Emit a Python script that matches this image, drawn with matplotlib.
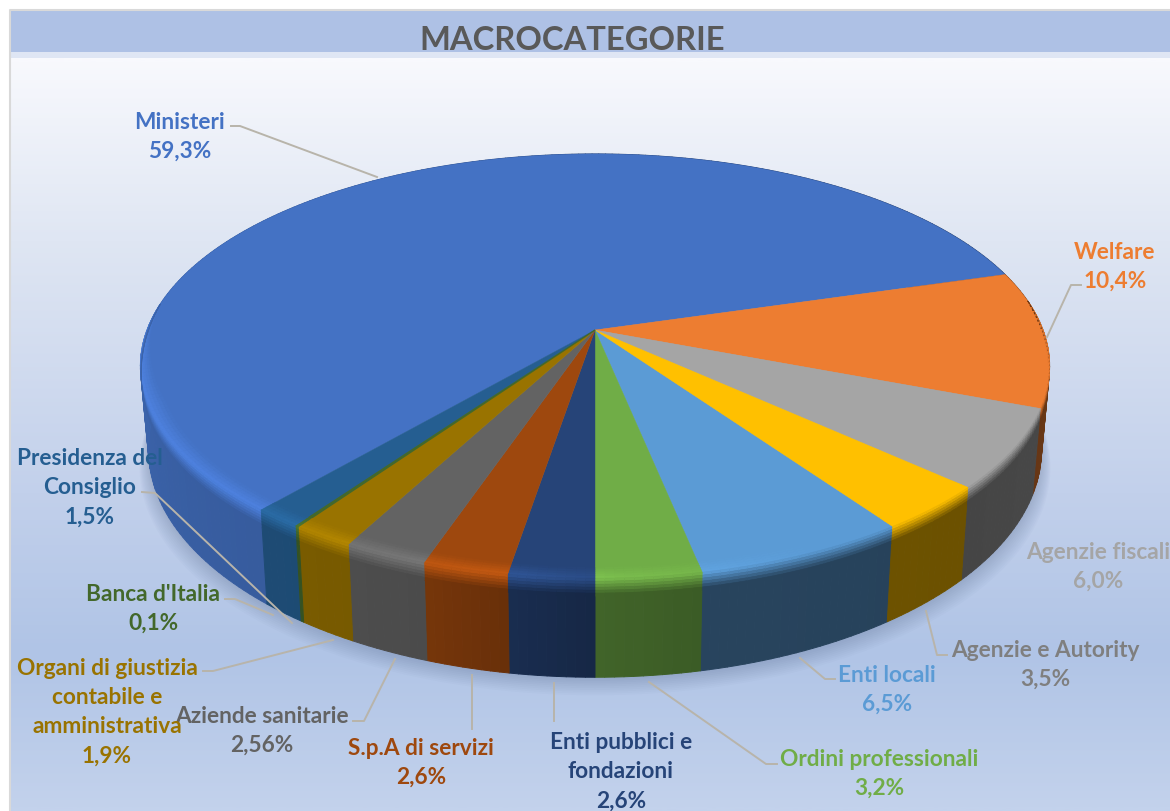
import numpy as np
import matplotlib
matplotlib.use("Agg")
import matplotlib.pyplot as plt
from matplotlib.collections import PolyCollection
from matplotlib.colors import to_rgb, LinearSegmentedColormap

# clockwise from the bottom of the pie
names = ["Enti pubblici e\nfondazioni", "S.p.A di servizi", "Aziende sanitarie",
         "Organi di giustizia\ncontabile e\namministrativa", "Banca d'Italia",
         "Presidenza del\nConsiglio", "Ministeri", "Welfare", "Agenzie fiscali",
         "Agenzie e Autority", "Enti locali", "Ordini professionali"]
shares = [2.6, 2.6, 2.56, 1.9, 0.1, 1.5, 59.3, 10.4, 6.0, 3.5, 6.5, 3.2]
share_text = ["2,6%", "2,6%", "2,56%", "1,9%", "0,1%", "1,5%", "59,3%", "10,4%",
              "6,0%", "3,5%", "6,5%", "3,2%"]
slice_colors = ["#264478", "#9E480E", "#636363", "#997300", "#43682B", "#255E91",
                "#4472C4", "#ED7D31", "#A5A5A5", "#FFC000", "#5B9BD5", "#70AD47"]
text_colors = ["#264478", "#9E480E", "#636363", "#997300", "#43682B", "#255E91",
               "#4472C4", "#ED7D31", "#A5A5A5", "#7F7F7F", "#5B9BD5", "#70AD47"]

# label centres and leader lines, in pixels
label_pos = [(621, 772), (421, 763), (262, 731), (107, 712), (153, 609), (90, 488),
             (180, 137), (1115, 267), (1098, 567), (1045, 665), (887, 690), (879, 774)]
leaders = [[(554, 722), (554, 684)],
           [(472, 730), (472, 676)],
           [(353, 722), (364, 722), (395, 660)],
           [(203, 672), (213, 672), (333, 641)],
           [(225, 600), (235, 600), (273, 616)],
           [(142, 493), (155, 494), (292, 624)],
           [(231, 127), (240, 127), (377, 178)],
           [(1081, 286), (1071, 286), (1047, 338)],
           None,
           [(947, 656), (937, 656), (926, 612)],
           [(835, 680), (825, 680), (800, 659)],
           [(777, 765), (766, 765), (649, 683)]]

CX, CY = 595, 331
K = 0.17


def top_ring(t, r=1.0):
    s = 1 + K * r * np.sin(t)
    return CX + 448 * r * np.cos(t) / s, CY - 206 * r * np.sin(t) / s


def bottom_ring(t):
    s = 1 + K * np.sin(t)
    return CX + 440 * np.cos(t) / s, CY + 81 - 221 * np.sin(t) / s


def rim_point(t, v):
    if v < 0:
        return top_ring(t, 1 + v * 0.25)
    x0, y0 = top_ring(t)
    x1, y1 = bottom_ring(t)
    return x0 + (x1 - x0) * v, y0 + (y1 - y0) * v


def wall_factor(a):
    return np.interp(a, [0, 20, 90, 180, 232, 250, 262, 270, 281, 282, 320, 360],
                     [.45, .45, .6, .88, .8, .76, .65, .58, .53, .44, .42, .45])


def glow_factor(a):
    return np.interp(a, [165, 185, 230, 262, 272, 295], [0, .14, .14, .25, .1, 0])


def rim_taper(a):
    # a runs 172..368 along the visible front of the pie
    return np.interp(a, [172, 200, 340, 368], [0, 1, 1, 0])


fig = plt.figure(figsize=(11.7, 8.12), dpi=100)
ax = fig.add_axes([0, 0, 1, 1])
ax.set_xlim(0, 1170)
ax.set_ylim(812, 0)
ax.axis("off")
plt.rcParams["font.family"] = ["Lato", "DejaVu Sans"]

# chart area
bg = LinearSegmentedColormap.from_list(
    "bg", [(0, "#f8f9fd"), (0.24, "#dfe6f3"), (0.58, "#c2d0eb"), (0.79, "#b0c4e6"), (1, "#c3d2ec")])
ax.imshow(np.linspace(0, 1, 300)[:, None], cmap=bg, extent=[10, 1170, 812, 59], aspect="auto", zorder=0)
ax.set_xlim(0, 1170)
ax.set_ylim(812, 0)
ax.fill_between([10, 1170], 12, 53, color="#aec1e5", lw=0, zorder=1)
ax.fill_between([10, 1170], 53, 59, color="#dfe6f4", lw=0, zorder=1)
ax.plot([10, 10, 1170], [812, 11, 11], color="#d9d9d9", lw=1.5, zorder=1)
ax.text(572, 40, "MACROCATEGORIE", color="#595959", fontsize=23.6, fontweight="bold",
        ha="center", va="center", zorder=6)

edges = np.cumsum([0] + shares) / np.sum(shares) * 360
ring = np.radians(np.linspace(0, 360, 361))

# soft shadow under the pie
bx, by = bottom_ring(ring)
for i in range(1, 11):
    ax.fill(CX + (bx - CX) * (1 + 0.002 * i), by + i * 1.8, color="#5f7396", alpha=0.035, lw=0, zorder=2)

wall_polys, wall_cols = [], []
rim_polys, rim_cols = [], []
rows = np.linspace(-0.15, 0.18, 12)
# biggest first so that the very thin slice stays visible
draw_order = sorted(range(len(shares)), key=lambda j: -shares[j])

for i in draw_order:
    base = np.array(to_rgb(slice_colors[i]))
    n = max(2, int(edges[i + 1] - edges[i]) + 1)
    ts = np.radians(-90 - np.linspace(edges[i], edges[i + 1], n))
    for t0, t1 in zip(ts[:-1], ts[1:]):
        a = np.degrees((t0 + t1) / 2) % 360
        wall = base * wall_factor(a)
        wall_polys.append([top_ring(t0), top_ring(t1), bottom_ring(t1), bottom_ring(t0)])
        wall_cols.append(wall)
        a_front = a + 360 if a < 90 else a
        taper = rim_taper(a_front)
        if taper <= 0:
            continue
        glow = np.clip(base * (1 + glow_factor(a)), 0, 1)
        for v0, v1 in zip(rows[:-1], rows[1:]):
            vm = (v0 + v1) / 2
            if vm < 0:
                col = base + (glow - base) * (vm + 0.15) / 0.15
            else:
                col = glow + (wall - glow) * min(vm / 0.16, 1)
            rim_polys.append([rim_point(t0, v0 * taper), rim_point(t1, v0 * taper),
                              rim_point(t1, v1 * taper), rim_point(t0, v1 * taper)])
            rim_cols.append(col)

ax.add_collection(PolyCollection(wall_polys, facecolors=wall_cols, edgecolors=wall_cols, linewidths=0.7, zorder=3))

# top face
for i in draw_order:
    ts = np.radians(-90 - np.linspace(edges[i], edges[i + 1], max(2, int(edges[i + 1] - edges[i]) + 2)))
    x, y = top_ring(ts)
    ax.fill(np.r_[CX, x], np.r_[CY, y], color=slice_colors[i], lw=0.3 if shares[i] > 0.5 else 0.9, zorder=4)

ax.add_collection(PolyCollection(rim_polys, facecolors=rim_cols, edgecolors=rim_cols, linewidths=0.4, zorder=4.5))

# labels
for name, txt, col, pos, line in zip(names, share_text, text_colors, label_pos, leaders):
    ax.text(pos[0], pos[1], name + "\n" + txt, color=col, fontsize=16.3, fontweight="bold",
            ha="center", va="center", multialignment="center", linespacing=1.48, zorder=7)
    if line is not None:
        lx, ly = zip(*line)
        ax.plot(lx, ly, color="#b8b4aa", lw=1.4, zorder=5)

plt.savefig("out.png", dpi=100)
plt.close()
